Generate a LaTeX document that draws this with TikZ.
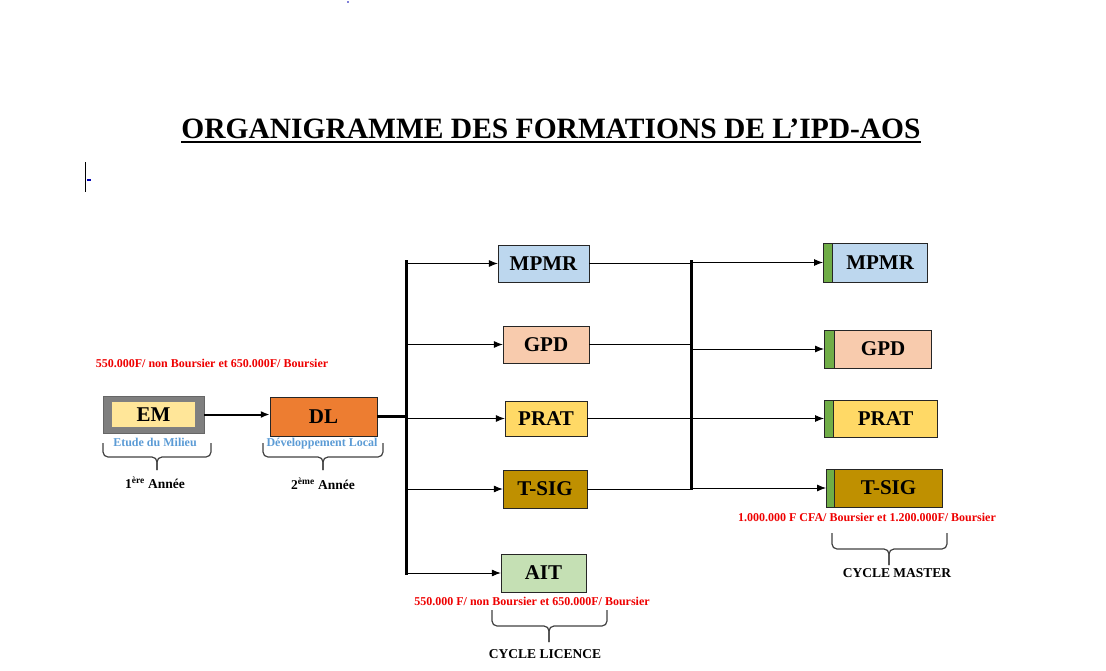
\documentclass[tikz,border=0pt]{standalone}
\usepackage{fontspec}
\setmainfont{Liberation Serif}
\usepackage{xcolor}
\usetikzlibrary{arrows.meta, positioning, calc}

\definecolor{mpmrblue}{HTML}{BDD7EE}
\definecolor{gpdpeach}{HTML}{F8CBAD}
\definecolor{pratyellow}{HTML}{FFD966}
\definecolor{tsiggold}{HTML}{BF9000}
\definecolor{aitgreen}{HTML}{C5E0B4}
\definecolor{stripgreen}{HTML}{70AD47}
\definecolor{dlorange}{HTML}{ED7D31}
\definecolor{emgray}{HTML}{7F7F7F}
\definecolor{emyellow}{HTML}{FFE699}
\definecolor{feered}{HTML}{EE0000}
\definecolor{notablue}{HTML}{5B9BD5}

\begin{document}
\begin{tikzpicture}[
    x=1pt, y=-1pt,
    box/.style={draw=black!85, rectangle, inner sep=0pt, minimum height=37pt, align=center, font=\fontsize{21}{24}\selectfont\bfseries},
    strip/.style={draw=black!85, fill=stripgreen, rectangle, inner sep=0pt},
    arrow/.style={-{Latex[length=9pt,width=7pt]}, line width=0.8pt},
    link/.style={line width=0.8pt},
    bar/.style={line width=3pt},
    note/.style={inner sep=0pt, font=\fontsize{12}{14}\selectfont\bfseries},
    label/.style={inner sep=0pt, font=\fontsize{13.5}{16}\selectfont\bfseries},
    fee/.style={note, text=feered},
    accolade/.style={draw=black!75, line width=1.2pt, rounded corners=5pt},
]
\useasboundingbox (0,0) rectangle (1106,670);

% Title
\node[inner sep=0pt, font=\fontsize{29.5}{34}\selectfont\bfseries] (title) at (551,129) {ORGANIGRAMME DES FORMATIONS DE L’IPD-AOS};
\draw[line width=2.5pt] ([yshift=-3.5pt]title.base west) -- ([yshift=-3.5pt]title.base east);

% Cursor marks
\fill[blue!70!black] (348,2) circle (0.8pt);
\draw[line width=0.8pt] (85,162) -- (85,192);
\draw[blue!70!black, line width=1.5pt] (87,180) -- (91,180);

% First years
\node[draw=black!60, fill=emgray, rectangle, minimum width=101pt, minimum height=37pt] (emframe) at (153.5,414.5) {};
\node[box, draw=black!50, fill=emyellow, minimum width=84pt, minimum height=26pt] (em) at (emframe) {EM};
\node[box, fill=dlorange, minimum width=107pt, minimum height=39pt] (dl) at (323.5,416.5) {DL};

\node[fee] (feeem) at (212,363) {550.000F/ non Boursier et 650.000F/ Boursier};
\node[note, text=notablue] (emname) at (155,442) {Etude du Milieu};
\node[note, text=notablue] (dlname) at (322,444) {Développement Local};
\node[label] (an1) at (155,483) {1\textsuperscript{ère} Année};
\node[label] (an2) at (323,484) {2\textsuperscript{ème} Année};

\draw[accolade] (103,443) |- (157,457) -- (157,470);
\draw[accolade] (211,443) |- (157,457) -- (157,470);
\draw[accolade] (263,443) |- (323,457) -- (323,470);
\draw[accolade] (383,443) |- (323,457) -- (323,470);

% Cycle licence
\node[box, fill=mpmrblue, minimum width=91pt] (mpmrL) at (543.5,263.5) {MPMR};
\node[box, fill=gpdpeach, minimum width=86pt] (gpdL) at (546,344.5) {GPD};
\node[box, fill=pratyellow, minimum width=82pt, minimum height=35pt] (pratL) at (546,418.5) {PRAT};
\node[box, fill=tsiggold, minimum width=84pt, minimum height=38pt] (tsigL) at (545,489) {T-SIG};
\node[box, fill=aitgreen, minimum width=85pt, minimum height=38pt] (aitL) at (543.5,573) {AIT};

\node[fee] (feelic) at (532,601) {550.000 F/ non Boursier et 650.000F/ Boursier};
\draw[accolade] (492,610) |- (549,626) -- (549,642);
\draw[accolade] (607,610) |- (549,626) -- (549,642);
\node[label] (cyclelic) at (545,654) {CYCLE LICENCE};

% Cycle master
\node[strip, minimum width=9pt, minimum height=39pt, anchor=west] (s1) at (823,262.5) {};
\node[box, fill=mpmrblue, minimum width=95pt, minimum height=39pt, right=0pt of s1] (mpmrM) {MPMR};
\node[strip, minimum width=10pt, minimum height=38pt, anchor=west] (s2) at (824,349) {};
\node[box, fill=gpdpeach, minimum width=97pt, minimum height=38pt, right=0pt of s2] (gpdM) {GPD};
\node[strip, minimum width=9pt, minimum height=37pt, anchor=west] (s3) at (824,418.5) {};
\node[box, fill=pratyellow, minimum width=104pt, minimum height=37pt, right=0pt of s3] (pratM) {PRAT};
\node[strip, minimum width=8pt, minimum height=38pt, anchor=west] (s4) at (826,488) {};
\node[box, fill=tsiggold, minimum width=108pt, minimum height=38pt, right=0pt of s4] (tsigM) {T-SIG};

\node[fee] (feemas) at (867,517) {1.000.000 F CFA/ Boursier et 1.200.000F/ Boursier};
\draw[accolade] (832,533) |- (889,549) -- (889,565);
\draw[accolade] (947,533) |- (889,549) -- (889,565);
\node[label] (cyclemas) at (897,573) {CYCLE MASTER};

% Bars
\coordinate (bar1top) at (406,260);
\coordinate (bar1bot) at (406,575);
\coordinate (bar2top) at (691,260);
\coordinate (bar2bot) at (691,490);
\draw[bar] (bar1top) -- (bar1bot);
\draw[bar] (bar2top) -- (bar2bot);

% Arrows
\draw[arrow, line width=2pt] (emframe.east) -- (emframe.east -| dl.west);
\draw[bar] (dl.east) -- (dl.east -| bar1top);
\foreach \n in {mpmrL, gpdL, pratL, tsigL, aitL}
  \draw[arrow] (\n.west -| bar1top) -- (\n.west);
\foreach \n in {mpmrL, gpdL, pratL, tsigL}
  \draw[link] (\n.east) -- (\n.east -| bar2top);
\foreach \s in {s1, s2, s3, s4}
  \draw[arrow] (bar2top |- \s.west) -- (\s.west);

\end{tikzpicture}
\end{document}
